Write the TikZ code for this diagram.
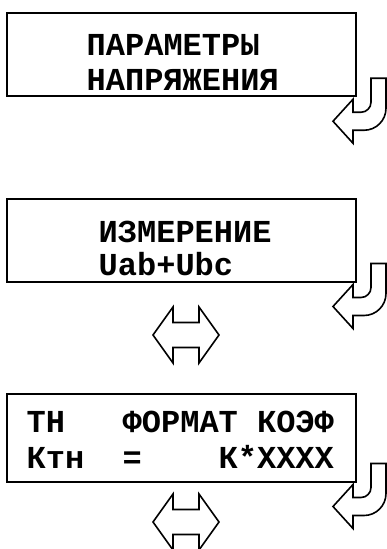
\documentclass[tikz,border=0pt]{standalone}
\usepackage{fontspec}
\setmonofont{Liberation Mono}
\usepackage{tikz}
\tikzstyle{lcd} = [rectangle, draw=black, line width=2pt, minimum width=349pt, minimum height=83pt, inner sep=0pt]
\tikzstyle{lcdtext} = [anchor=base west, inner sep=0pt, font=\ttfamily\bfseries\fontsize{32}{36}\selectfont]
\tikzstyle{blockarrow} = [draw=black, line width=1.6pt, fill=white, line join=miter]
\tikzset{
  enterkey/.pic={
    \draw[blockarrow] (14,-19) -- (29,-19) -- (29,11) .. controls (29,23.15) and (19.15,33) .. (7,33)
      -- (-4,33) -- (-4,46) -- (-24,24) -- (-4,2) -- (-4,15) -- (4,15)
      .. controls (9.5,15) and (14,10.5) .. (14,5) -- cycle;
  },
  leftright/.pic={
    \draw[blockarrow] (-33,0) -- (-13,-28) -- (-13,-12.5) -- (13,-12.5) -- (13,-28) -- (33,0)
      -- (13,28) -- (13,12.5) -- (-13,12.5) -- (-13,28) -- cycle;
  }
}
\begin{document}
\begin{tikzpicture}[x=1pt, y=-1pt]
	\useasboundingbox (0,0) rectangle (387,549);
	\node(param_box) [lcd] at (181.5,54.75) {};
	\node(param_line1) [lcdtext] at (86.5,55) {ПАРАМЕТРЫ};
	\node(param_line2) [lcdtext] at (86.5,90) {НАПРЯЖЕНИЯ};
	\pic at (param_box.south east) {enterkey};

	\node(measure_box) [lcd] at (181.5,240) {};
	\node(measure_line1) [lcdtext] at (98.5,242) {ИЗМЕРЕНИЕ};
	\node(measure_line2) [lcdtext] at (98.5,275) {Uab+Ubc};
	\pic at (measure_box.south east) {enterkey};
	\pic at (186,335) {leftright};

	\node(coef_box) [lcd, minimum height=88pt] at (181.5,437.5) {};
	\node(coef_line1) [lcdtext] at (26.5,432) {ТН~~~ФОРМАТ~КОЭФ};
	\node(coef_line2) [lcdtext] at (26.5,468) {Ктн~~=~~~~К*XXXX};
	\pic at (coef_box.south east) {enterkey};
	\pic at (186,522) {leftright};
\end{tikzpicture}
\end{document}
